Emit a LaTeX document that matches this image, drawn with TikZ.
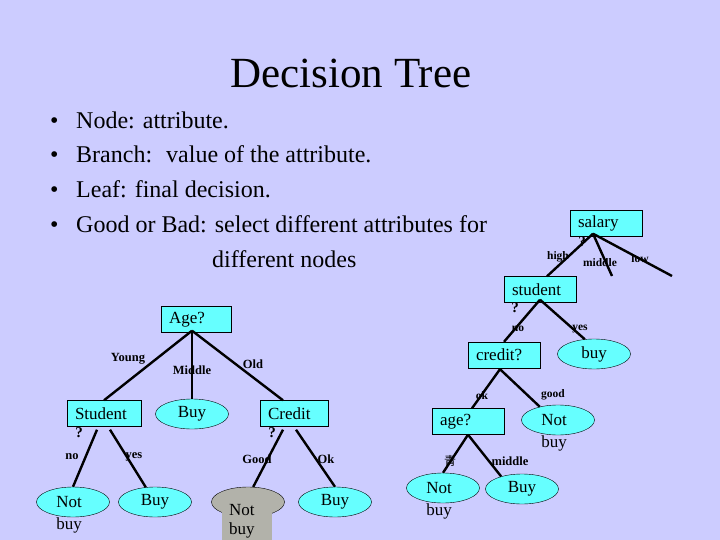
\documentclass[tikz,border=0pt]{standalone}
\usepackage{fontspec}
\setmainfont{Liberation Serif}
\newfontfamily\cjkfont{Noto Sans CJK SC}
\usetikzlibrary{shapes.geometric,calc,positioning}

\definecolor{slidebg}{RGB}{204,204,255}
\definecolor{nodecyan}{RGB}{102,255,255}
\definecolor{leafgray}{RGB}{178,178,170}

\tikzset{
  attr/.style={draw=black, fill=nodecyan, minimum height=26pt, text width=56pt,
    inner xsep=8pt, inner ysep=0pt, align=left, font=\fontsize{17}{19}\selectfont},
  leaf/.style={ellipse, draw=black, fill=nodecyan, minimum width=73pt,
    minimum height=30pt, inner sep=0pt, font=\fontsize{17}{19}\selectfont},
  sub/.style={inner sep=0pt, font=\fontsize{17}{19}\selectfont},
  bul/.style={inner sep=0pt, font=\fontsize{24}{28}\selectfont},
  branch/.style={line width=2.4pt},
  blab/.style={inner sep=0pt, font=\bfseries\fontsize{12.5}{13}\selectfont},
  slab/.style={inner sep=0pt, font=\bfseries\fontsize{11.5}{12}\selectfont},
  qmark/.style={inner sep=0pt, font=\bfseries\fontsize{15}{15}\selectfont}
}

\begin{document}
\begin{tikzpicture}[x=1pt,y=-1pt]
  \path[use as bounding box, fill=slidebg] (0,0) rectangle (720,540);

  % title and bullets
  \node[font=\fontsize{43}{48}\selectfont, inner sep=0pt, anchor=base] (title) at (351,88) {Decision Tree};
  \foreach \y/\txt [count=\i] in {129/{Node: attribute.},163/{Branch:~ value of the attribute.},
      198/{Leaf: final decision.},233/{Good or Bad: select different attributes for}} {
    \node[bul, anchor=base west] (dot\i) at (50,\y) {\textbullet};
    \node[bul, anchor=base west] (item\i) at (76,\y) {\txt};
  }
  \node[bul, anchor=base west] (item5) at (212,267) {different nodes};

  % salary tree
  \node[attr] (salary) at (606,223.5) {salary};
  \node[attr] (student) at (540,289.5) {student};
  \node[attr] (creditq) at (504,355) {credit?};
  \node[attr] (ageq) at (468,421.5) {age?};
  \node[leaf] (buyr) at (594,354) {buy};
  \node[leaf] (notr) at (558,420) {\hspace*{-8pt}Not};
  \node[sub, below=0pt of notr.south, xshift=-4pt] (notrbuy) {buy};
  \node[leaf] (notra) at (443,488) {\hspace*{-8pt}Not};
  \node[sub, below=0pt of notra.south, xshift=-4pt] (notrabuy) {buy};
  \node[leaf] (buyra) at (522,489) {Buy};
  \coordinate (midend) at (612,276);
  \coordinate (lowend) at (672,276);

  % age tree
  \node[attr, text width=54pt] (age) at (196,319.5) {Age?};
  \node[attr, text width=58pt] (stud) at (104,413.5) {Student};
  \node[leaf] (buym) at (192,414) {Buy};
  \node[attr, text width=52pt] (credit) at (294,413.5) {Credit};
  \node[leaf] (notl) at (73,502) {\hspace*{-8pt}Not};
  \node[sub, below=0pt of notl.south, xshift=-4pt] (notlbuy) {buy};
  \node[leaf] (buyl) at (155,502) {Buy};
  \node[leaf, fill=leafgray] (notg) at (248,502) {};
  \node[sub, fill=leafgray, text width=36pt, inner xsep=7pt, minimum height=38pt,
    align=left, anchor=north] (notgbox) at (247,502) {Not\\buy};
  \node[leaf] (buyo) at (335,502) {Buy};

  % branch labels
  \node[qmark] (qsal) at (582,242) {?};
  \node[slab] (lhigh) at (558,257) {high};
  \node[slab] (lmid) at (600,263) {middle};
  \node[slab] (llow) at (640,259) {low};
  \node[qmark] (qstud) at (515,308) {?};
  \node[slab] (lno) at (518,329) {no};
  \node[slab] (lyes) at (580,329) {yes};
  \node[slab] (lok) at (482,396) {ok};
  \node[slab] (lgood) at (553,395) {good};
  \node[blab, font=\cjkfont\fontsize{12}{12}\selectfont] (lyoung) at (450,461) {青};
  \node[blab] (lmiddle) at (510,461) {middle};

  \node[blab] (lYoung) at (128,359) {Young};
  \node[blab] (lMiddle) at (192,370) {Middle};
  \node[blab] (lOld) at (253,364) {Old};
  \node[qmark] (qstudl) at (79,433) {?};
  \node[blab] (lnol) at (72,457) {no};
  \node[blab] (lyesl) at (134,457) {yes};
  \node[qmark] (qcred) at (272,433) {?};
  \node[blab] (lGood) at (257,459) {Good};
  \node[blab] (lOk) at (326,459) {Ok};

  % branches
  \coordinate (salfork) at ($(salary.south)+(-13,-3)$);
  \draw[branch] (salfork) -- ($(student.north)+(7,0)$);
  \draw[branch] (salfork) -- (midend);
  \draw[branch] (salfork) -- (lowend);
  \coordinate (studfork) at ($(student.south)+(0,-3)$);
  \draw[branch] (studfork) -- (creditq.north);
  \draw[branch] (studfork) -- (buyr.122);
  \coordinate (credfork) at ($(creditq.south)+(-4,1)$);
  \draw[branch] (credfork) -- ($(ageq.north)+(4,0)$);
  \draw[branch] (credfork) -- (notr.144);
  \draw[branch] (ageq.south) -- (notra.north);
  \draw[branch] (ageq.south) -- (buyra.149);

  \coordinate (agefork) at ($(age.south)+(-4,-2)$);
  \draw[branch] (agefork) -- (stud.north);
  \draw[branch] (agefork) -- (buym.north);
  \draw[branch] (agefork) -- ($(credit.north)+(-11,0)$);
  \draw[branch] ($(stud.south)+(-7,3)$) -- (notl.north);
  \draw[branch] ($(stud.south)+(6,3)$) -- (buyl.122);
  \draw[branch] ($(credit.south)+(-11,3)$) -- (notg.71);
  \draw[branch] ($(credit.south)+(2,3)$) -- (buyo.north);
\end{tikzpicture}
\end{document}
